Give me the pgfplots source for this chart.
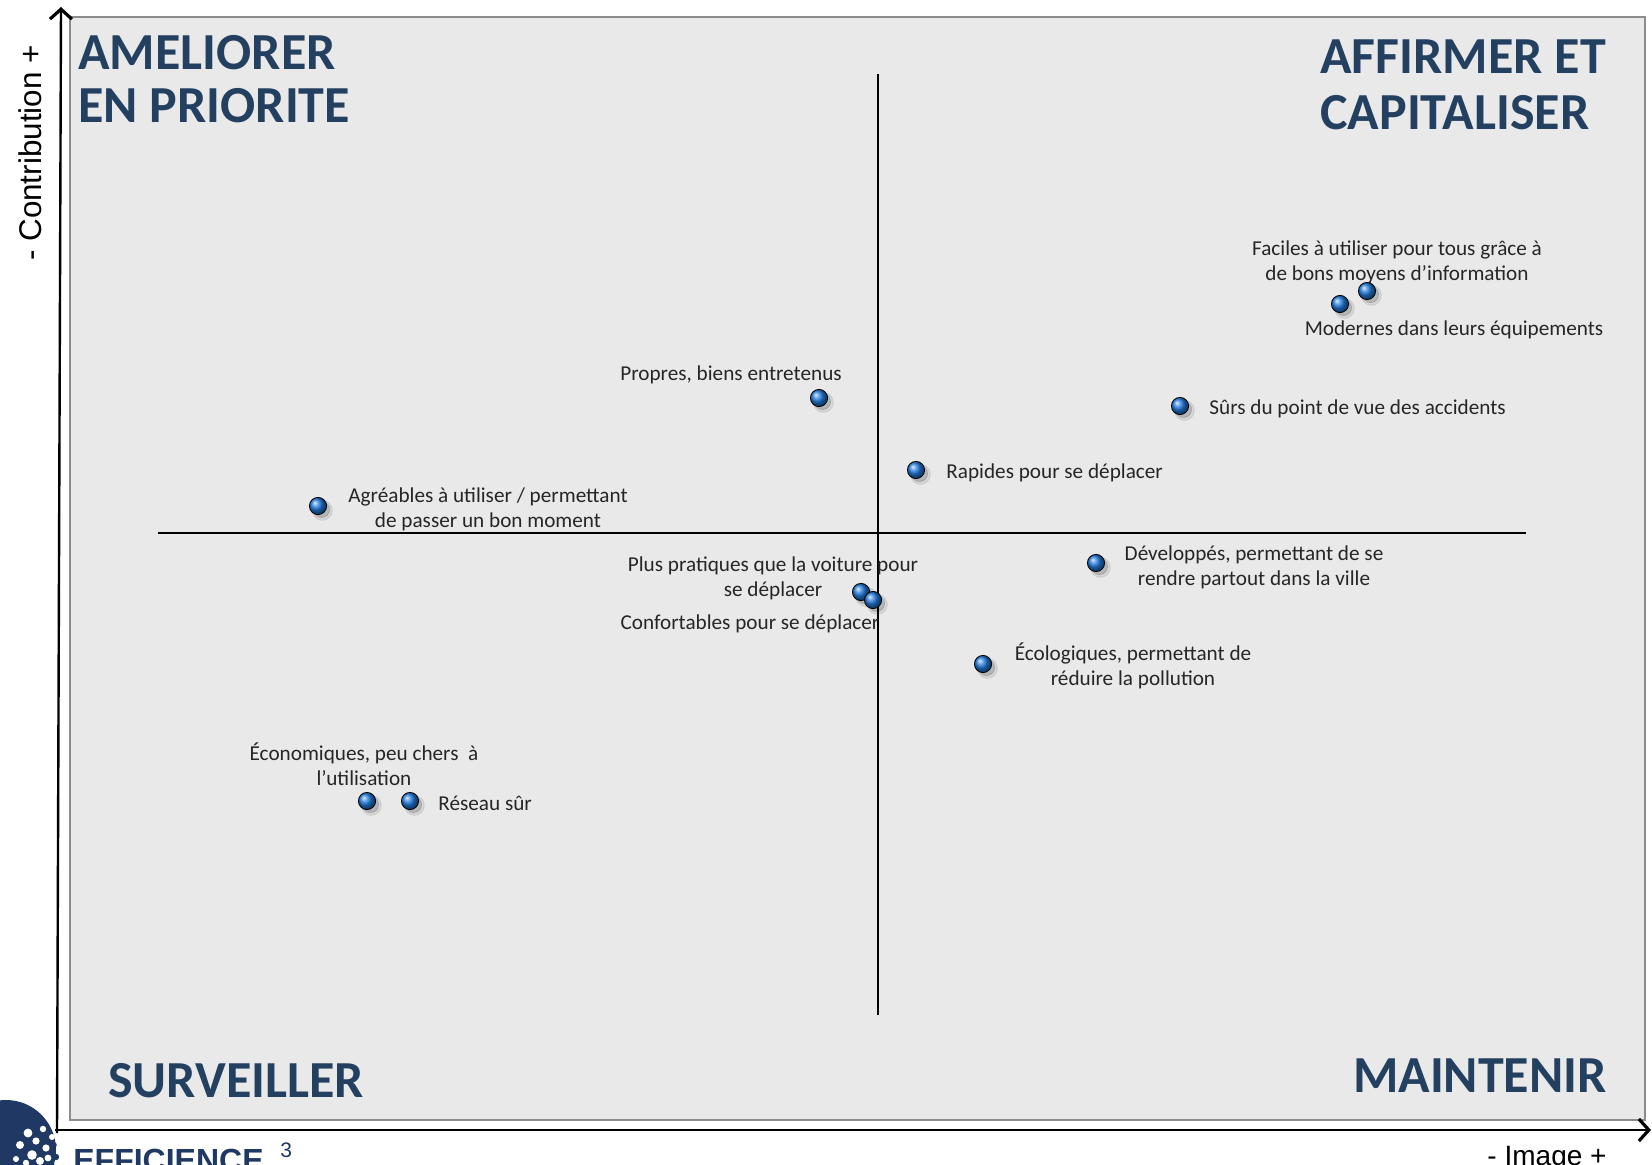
\documentclass[border=0pt]{standalone}
\usepackage{pgfplots}
\pgfplotsset{compat=1.18}
\usepackage{pgfplotstable}
\usepackage{fontspec}
\setmainfont{Carlito}
\newfontfamily\arialf{Liberation Sans}
\usetikzlibrary{arrows.meta}

\definecolor{titleblue}{RGB}{36,64,97}
\definecolor{panelgray}{RGB}{233,233,233}
\definecolor{panelborder}{RGB}{140,140,140}
\definecolor{labelgray}{RGB}{38,38,38}
\definecolor{ballblue}{RGB}{35,125,225}
\definecolor{logoblue}{RGB}{31,56,100}

% x = Image, y = Contribution (origin at the cross)
\pgfplotstableread{
x    y
489  242
462  229
-59  135
302  127
38   63
-560 27
218  -30
-17  -59
-5   -67
105  -131
-511 -268
-468 -268
}\points

\begin{document}
\begin{tikzpicture}
\begin{axis}[
    width=826pt, height=582pt, scale only axis,
    xmin=-878, xmax=774, ymin=-631, ymax=533,
    hide axis, clip=false,
]
\coordinate (bl) at (axis cs:-878,-631);
\coordinate (tr) at (axis cs:774,533);

% panel
\draw[panelborder, line width=1.2pt, fill=panelgray]
    (axis cs:-808,-587) rectangle (axis cs:767,516);

% outer axes
\draw[line width=1.2pt, -{Straight Barb[length=5pt,width=11pt,line width=1.6pt]}]
    (axis cs:-821,-600) -- (axis cs:-817,526);
\draw[line width=1.2pt, -{Straight Barb[length=5pt,width=11pt,line width=1.6pt]}]
    (axis cs:-823,-597) -- (axis cs:773,-597);

% cross
\draw[line width=1pt] (axis cs:0,459) -- (axis cs:0,-482);
\draw[line width=1pt] (axis cs:-720,0) -- (axis cs:648,0);

% quadrant titles
\begin{scope}[every node/.style={inner sep=0pt, text=titleblue, font=\fontsize{26}{26}\selectfont\bfseries}]
\node[anchor=base west] at (axis cs:-800,463) {AMELIORER};
\node[anchor=base west] at (axis cs:-800,410) {EN PRIORITE};
\node[anchor=base west] at (axis cs:442,459) {AFFIRMER ET};
\node[anchor=base west] at (axis cs:442,403) {CAPITALISER};
\node[anchor=base west] at (axis cs:-770,-564) {SURVEILLER};
\node[anchor=base east] at (axis cs:729,-559) {MAINTENIR};
\end{scope}

% axis labels
\node[rotate=90, inner sep=0pt, font=\arialf\fontsize{15.7}{16}\selectfont]
    at (axis cs:-848,380) {- Contribution +};
\node[anchor=base, inner sep=0pt, font=\arialf\fontsize{14}{15}\selectfont]
    at (axis cs:669,-632) {- Image +};

% logo
\fill[logoblue] (axis cs:-872,-617) circle [radius=25pt];
\fill[white] (axis cs:-850,-600) circle [radius=2.2pt];
\fill[white] (axis cs:-842,-608) circle [radius=1.8pt];
\fill[white] (axis cs:-835,-596) circle [radius=1.6pt];
\fill[white] (axis cs:-858,-612) circle [radius=2.0pt];
\fill[white] (axis cs:-846,-622) circle [radius=2.4pt];
\fill[white] (axis cs:-832,-615) circle [radius=1.8pt];
\fill[white] (axis cs:-838,-628) circle [radius=2.0pt];
\fill[white] (axis cs:-852,-630) circle [radius=1.6pt];
\fill[white] (axis cs:-826,-604) circle [radius=1.5pt];
\fill[white] (axis cs:-830,-625) circle [radius=1.7pt];
\fill[white] (axis cs:-862,-626) circle [radius=1.5pt];
\fill[logoblue] (axis cs:-824,-612) circle [radius=1.4pt];
\fill[logoblue] (axis cs:-822,-624) circle [radius=1.6pt];
\fill[logoblue] (axis cs:-826,-632) circle [radius=1.3pt];
\node[anchor=base west, inner sep=0pt, text=logoblue, font=\arialf\bfseries\fontsize{16}{17}\selectfont]
    at (axis cs:-805,-638) {EFFICIENCE};
\node[anchor=base west, inner sep=0pt, text=logoblue, font=\arialf\fontsize{10.5}{11}\selectfont]
    at (axis cs:-598,-624) {3};

% shadows and balls
\addplot[only marks, mark=*, mark size=5pt, draw=none, fill=black, opacity=0.08,
    mark options={xshift=2.2pt, yshift=-2.2pt}] table[x=x, y=y] {\points};
\addplot[only marks, mark=*, mark size=4pt, draw=none, fill=black, opacity=0.15,
    mark options={xshift=1.8pt, yshift=-1.8pt}] table[x=x, y=y] {\points};
\addplot[only marks, mark=ball, ball color=ballblue, mark size=4.3pt]
    table[x=x, y=y] {\points};

% point labels
\begin{scope}[every node/.style={inner sep=0pt, text=labelgray, align=center,
    font=\fontsize{10.6}{12.6}\selectfont}]
\node at (axis cs:519,271) {Faciles à utiliser pour tous grâce à\\de bons moyens d’information};
\node at (axis cs:576,203) {Modernes dans leurs équipements};
\node at (axis cs:-147,158) {Propres, biens entretenus};
\node[anchor=west] at (axis cs:331,124) {Sûrs du point de vue des accidents};
\node[anchor=west] at (axis cs:68,60) {Rapides pour se déplacer};
\node at (axis cs:-390,24) {Agréables à utiliser / permettant\\de passer un bon moment};
\node at (axis cs:376,-34) {Développés, permettant de se\\rendre partout dans la ville};
\node at (axis cs:-105,-45) {Plus pratiques que la voiture pour\\se déplacer};
\node at (axis cs:-128,-91) {Confortables pour se déplacer};
\node at (axis cs:255,-133) {Écologiques, permettant de\\réduire la pollution};
\node at (axis cs:-514,-231) {Économiques, peu chers~~à\\l’utilisation};
\node[anchor=west] at (axis cs:-440,-270) {Réseau sûr};
\end{scope}
\end{axis}
\pgfresetboundingbox
\path[use as bounding box] (bl) rectangle (tr);
\end{tikzpicture}
\end{document}
